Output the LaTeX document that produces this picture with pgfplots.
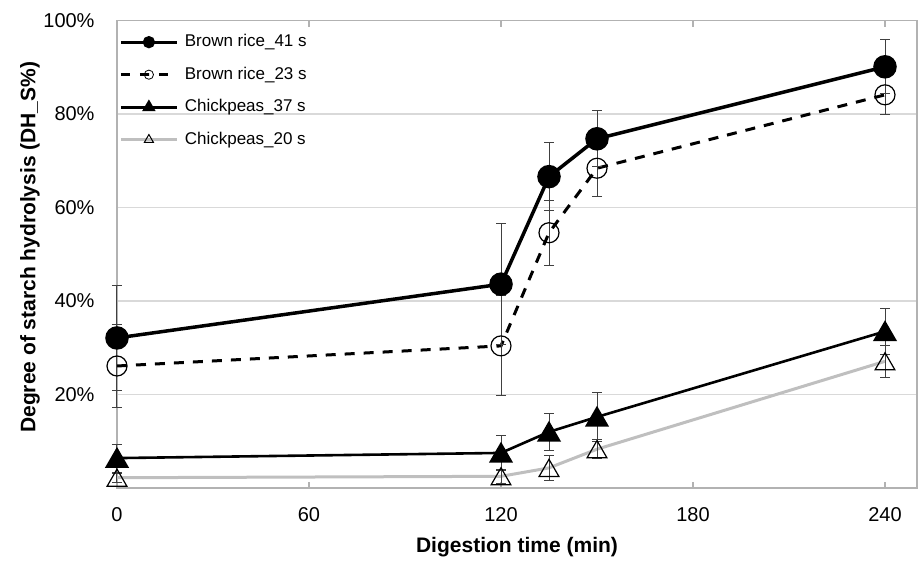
\documentclass[border=0pt]{standalone}
\usepackage{fontspec}
\setmainfont{Liberation Sans}
\usepackage{pgfplots}
\pgfplotsset{compat=1.18}
\definecolor{gridc}{HTML}{D9D9D9}
\definecolor{cpgray}{HTML}{BFBFBF}
\definecolor{errc}{HTML}{404040}
\pgfplotstableread{
x y e
0 32.1 11.2
120 43.6 13.0
135 66.6 7.2
150 74.7 6.0
240 90.1 5.8
}\brA
\pgfplotstableread{
x y e
0 26.1 8.8
120 30.4 10.7
135 54.6 7.0
150 68.4 6.1
240 84.1 4.3
}\brB
\pgfplotstableread{
x y e
0 6.4 3.0
120 7.5 3.8
135 12.0 4.0
150 15.2 5.2
240 33.5 4.9
}\cpA
\pgfplotstableread{
x y e
0 2.2 1.0
120 2.5 1.5
135 4.3 2.7
150 8.3 2.0
240 27.1 3.4
}\cpB
\begin{document}
\begin{tikzpicture}
\begin{axis}[
  scale only axis, width=400pt, height=233.75pt,
  xmin=0, xmax=250, ymin=0, ymax=100,
  xtick={0,60,120,180,240}, ytick={20,40,60,80,100},
  yticklabel={\pgfmathprintnumber{\tick}\%},
  /pgf/number format/assume math mode=true,
  ymajorgrids, grid style={gridc, line width=0.7pt},
  axis line style={black!30, line width=0.7pt},
  xtick style={black!30, line width=0.6pt},
  ytick style={draw=none},
  tick align=inside, major tick length=3pt,
  ticklabel style={font=\fontsize{10}{11}\selectfont},
  xticklabel style={yshift=-6.2pt},
  yticklabel style={xshift=-7.7pt},
  xlabel={\textbf{Digestion time (min)}},
  ylabel={\textbf{Degree of starch hydrolysis (DH\_S\%)}},
  label style={font=\fontsize{10.5}{12}\selectfont},
  xlabel style={at={(axis description cs:0.5,0)}, anchor=center, yshift=-29.5pt},
  ylabel style={at={(axis description cs:0,0.515)}, anchor=center, yshift=43.5pt},
  clip=false,
  legend image code/.code={\draw[mark repeat=2,mark phase=2,#1] plot coordinates {(0pt,0pt) (14pt,0pt) (28pt,0pt)};},
  legend style={at={(axis description cs:0,1)}, anchor=north west, draw=none, fill=none,
    font=\fontsize{8.5}{9.5}\selectfont, row sep=4.6pt, column sep=1.2pt, inner xsep=1pt, inner ysep=4.8pt},
  legend cell align=left,
]
% Chickpeas_20 s
\addplot[cpgray, line width=1.5pt, mark=triangle, mark size=5.7pt,
  mark options={black, solid, line width=0.6pt, yshift=-1.4pt}, forget plot,
  error bars/.cd, y dir=both, y explicit,
  error bar style={errc, line width=0.5pt, solid},
  error mark options={rotate=90, errc, mark size=2.5pt, line width=0.5pt}]
  table[x=x, y=y, y error=e] {\cpB};
% Chickpeas_37 s
\addplot[black, line width=1.3pt, mark=triangle*, mark size=5.7pt,
  mark options={solid, yshift=-1.4pt}, forget plot,
  error bars/.cd, y dir=both, y explicit,
  error bar style={errc, line width=0.5pt, solid},
  error mark options={rotate=90, errc, mark size=2.5pt, line width=0.5pt}]
  table[x=x, y=y, y error=e] {\cpA};
% Brown rice_23 s
\addplot[black, line width=1.5pt, dash pattern=on 5pt off 4.5pt, mark=o, mark size=5pt,
  mark options={solid, line width=0.6pt}, forget plot,
  error bars/.cd, y dir=both, y explicit,
  error bar style={errc, line width=0.5pt, solid},
  error mark options={rotate=90, errc, mark size=2.5pt, line width=0.5pt}]
  table[x=x, y=y, y error=e] {\brB};
% Brown rice_41 s
\addplot[black, line width=1.75pt, mark=*, mark size=5pt,
  mark options={solid}, forget plot,
  error bars/.cd, y dir=both, y explicit,
  error bar style={errc, line width=0.5pt, solid},
  error mark options={rotate=90, errc, mark size=2.5pt, line width=0.5pt}]
  table[x=x, y=y, y error=e] {\brA};
\addlegendimage{black, line width=1.5pt, mark=*, mark size=2.3pt, mark options={solid}}
\addlegendentry{Brown rice\_41 s}
\addlegendimage{black, line width=1.5pt, dash pattern=on 4.5pt off 5pt, mark=o, mark size=2.3pt, mark options={solid, line width=0.4pt}}
\addlegendentry{Brown rice\_23 s}
\addlegendimage{black, line width=1.3pt, mark=triangle*, mark size=2.6pt, mark options={solid}}
\addlegendentry{Chickpeas\_37 s}
\addlegendimage{cpgray, line width=1.3pt, mark=triangle, mark size=2.6pt, mark options={black, solid, line width=0.5pt}}
\addlegendentry{Chickpeas\_20 s}
\end{axis}
\path ([shift={(-58.5pt,-35pt)}]current axis.south west) rectangle ([shift={(1.5pt,10.25pt)}]current axis.north east);
\end{tikzpicture}
\end{document}
